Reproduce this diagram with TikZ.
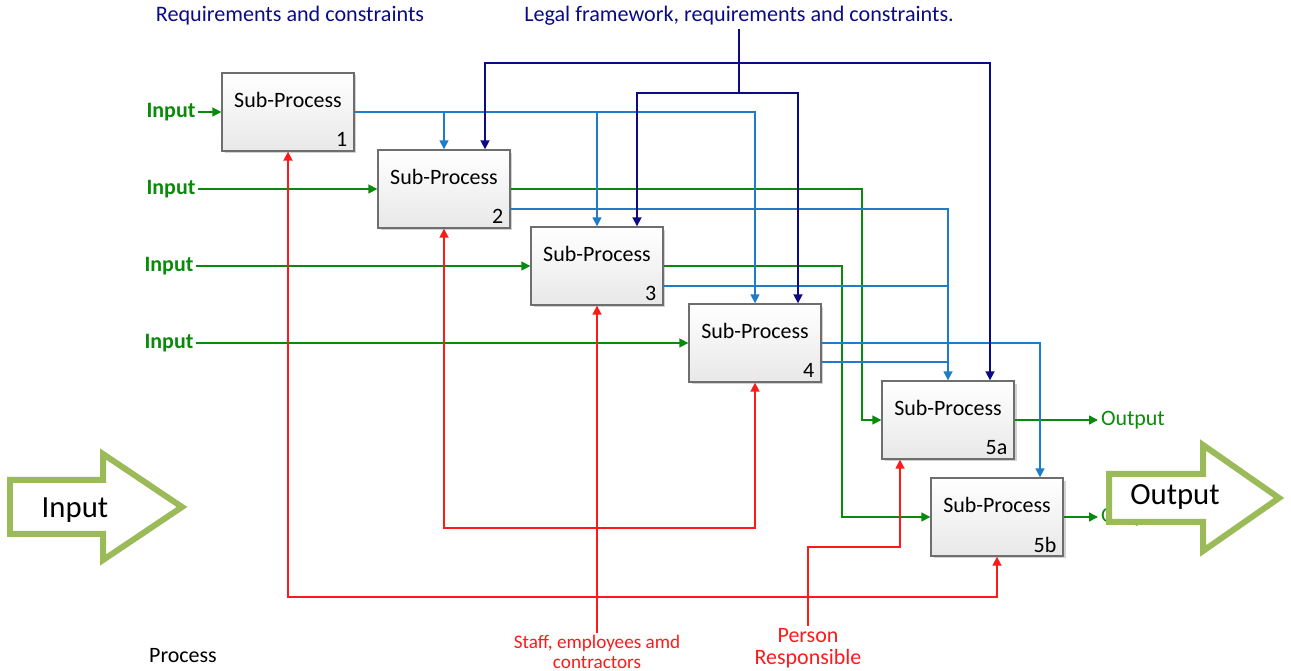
\documentclass[tikz,border=0pt]{standalone}
\usepackage{fontspec}
\setmainfont{Carlito}
\usepackage{xcolor}
\usepackage{tikz}
\usetikzlibrary{positioning, arrows.meta, shadows}
\definecolor{flowgreen}{HTML}{0A8A0A}
\definecolor{ctrlblue}{HTML}{1F7CC9}
\definecolor{legalnavy}{HTML}{0B0B85}
\definecolor{staffred}{HTML}{FF1A1A}
\definecolor{arrowolive}{HTML}{9BBB59}
\definecolor{boxedge}{HTML}{6E6E6E}

\begin{document}
\begin{tikzpicture}[x=0.02cm, y=-0.02cm,
    font=\fontsize{12.5}{15}\selectfont,
    subproc/.style={draw=boxedge, line width=0.8pt, top color=white, bottom color=black!9,
        minimum width=2.64cm, minimum height=1.56cm, inner sep=0pt,
        drop shadow={shadow xshift=0.05cm, shadow yshift=-0.05cm, fill=black!35, opacity=0.5},
        label={[anchor=center, yshift=-0.56cm]north:Sub-Process}},
    spnum/.style={anchor=east, inner sep=0pt, xshift=-0.14cm, yshift=0.24cm},
    tip/.style={-{Triangle[length=0.18cm, width=0.18cm]}},
    flow/.style={draw=flowgreen, line width=0.9pt, tip},
    ctrl/.style={draw=ctrlblue, line width=0.9pt, tip},
    ctrlline/.style={draw=ctrlblue, line width=0.9pt},
    legal/.style={draw=legalnavy, line width=1pt, tip},
    legalline/.style={draw=legalnavy, line width=1pt},
    res/.style={draw=staffred, line width=1pt, tip},
    resboth/.style={draw=staffred, line width=1pt, {Triangle[length=0.18cm, width=0.18cm]}-{Triangle[length=0.18cm, width=0.18cm]}},
    inlabel/.style={text=flowgreen, font=\fontsize{12.5}{15}\selectfont\bfseries, inner sep=1.5pt},
    outlabel/.style={text=flowgreen, inner sep=1.5pt, anchor=west},
    navytext/.style={text=legalnavy, inner sep=2pt, font=\fontsize{12.6}{15}\selectfont},
    redtext/.style={text=staffred, align=center, inner sep=1pt},
    bigarrow/.style={draw=arrowolive, line width=0.12cm, fill=white, miter limit=20},
    bigtext/.style={font=\fontsize{17.5}{20}\selectfont}
]
    \useasboundingbox (0,0) rectangle (1291,671);

    % titles
    \node[navytext] (req) at (290,16) {Requirements and constraints};
    \node[navytext] (legalfw) at (739,16) {Legal framework, requirements and constraints.};

    % sub-processes
    \node[subproc, label={[spnum]south east:1}] (sp1) at (288,112) {};
    \node[subproc, label={[spnum]south east:2}] (sp2) at (444,189) {};
    \node[subproc, label={[spnum]south east:3}] (sp3) at (597,266) {};
    \node[subproc, label={[spnum]south east:4}] (sp4) at (755,343) {};
    \node[subproc, label={[spnum]south east:5a}] (sp5a) at (948,420) {};
    \node[subproc, label={[spnum]south east:5b}] (sp5b) at (997,517) {};

    % inputs
    \node[inlabel] (in1) at (171,112) {Input};
    \node[inlabel] (in2) at (171,189) {Input};
    \node[inlabel] (in3) at (169,266) {Input};
    \node[inlabel] (in4) at (169,343) {Input};
    \draw[flow] (in1) -- (sp1);
    \draw[flow] (in2) -- (sp2);
    \draw[flow] (in3) -- (sp3);
    \draw[flow] (in4) -- (sp4);

    % outputs between steps
    \draw[flow] (sp2.east) -| ([xshift=-1.72cm]sp5a.center) -- (sp5a.west);
    \draw[flow] (sp3.east) -| ([xshift=-3.1cm]sp5b.center) -- (sp5b.west);
    \node[outlabel] (out1) at (1098,420) {Output};
    \node[outlabel] (out2) at (1098,517) {Output};
    \draw[flow] (sp5a.east) -- (out1.west);
    \draw[flow] (sp5b.east) -- (out2.west);

    % requirements
    \coordinate (t2) at ([yshift=-0.4cm]sp2.east);
    \coordinate (t3) at ([yshift=-0.4cm]sp3.east);
    \coordinate (t4) at ([yshift=-0.38cm]sp4.east);
    \draw[ctrl] (sp1.east) -| (sp4.north);
    \draw[ctrl] (sp1.east -| sp2.north) -- (sp2.north);
    \draw[ctrl] (sp1.east -| sp3.north) -- (sp3.north);
    \draw[ctrl] (t2) -| (sp5a.north);
    \draw[ctrlline] (t3) -- (t3 -| sp5a.north);
    \draw[ctrlline] (t4) -- (t4 -| sp5a.north);
    \draw[ctrl] (sp4.east) -| ([xshift=0.86cm]sp5b.north);

    % legal framework
    \coordinate (lj1) at (739,63);
    \coordinate (lj2) at (739,93);
    \draw[legalline] (legalfw.south) -- (lj2);
    \draw[legal] (lj1) -| ([xshift=0.82cm]sp2.north);
    \draw[legal] (lj1) -| ([xshift=0.84cm]sp5a.north);
    \draw[legal] (lj2) -| ([xshift=0.8cm]sp3.north);
    \draw[legal] (lj2) -| ([xshift=0.86cm]sp4.north);

    % resources
    \node[redtext, font=\fontsize{10.9}{11.2}\selectfont] (staff) at (597,652) {Staff, employees amd\\contractors};
    \node[redtext, font=\fontsize{12.5}{12.8}\selectfont] (person) at (808,648) {Person\\Responsible};
    \coordinate (rb1) at (597,528);
    \coordinate (rb2) at (597,597);
    \coordinate (pb) at (808,547);
    \draw[res] (staff.north) -- (sp3.south);
    \draw[resboth] (sp2.south) |- (rb1) -| (sp4.south);
    \draw[resboth] (sp1.south) |- (rb2) -| (sp5b.south);
    \draw[res] (person.north) -- (pb) -| ([xshift=-0.96cm]sp5a.south);

    \node (proc) at (183,656) {Process};

    % big arrows
    \draw[bigarrow] (10,480) -- (103,480) -- (103,454) -- (182,507) -- (103,560) -- (103,534) -- (10,534) -- cycle;
    \node[bigtext] (inbig) at (75,510) {Input};
    \draw[bigarrow] (1109,474) -- (1203,474) -- (1203,445) -- (1279,498) -- (1203,551) -- (1203,522) -- (1109,522) -- cycle;
    \node[bigtext] (outbig) at (1175,497) {Output};
\end{tikzpicture}
\end{document}
